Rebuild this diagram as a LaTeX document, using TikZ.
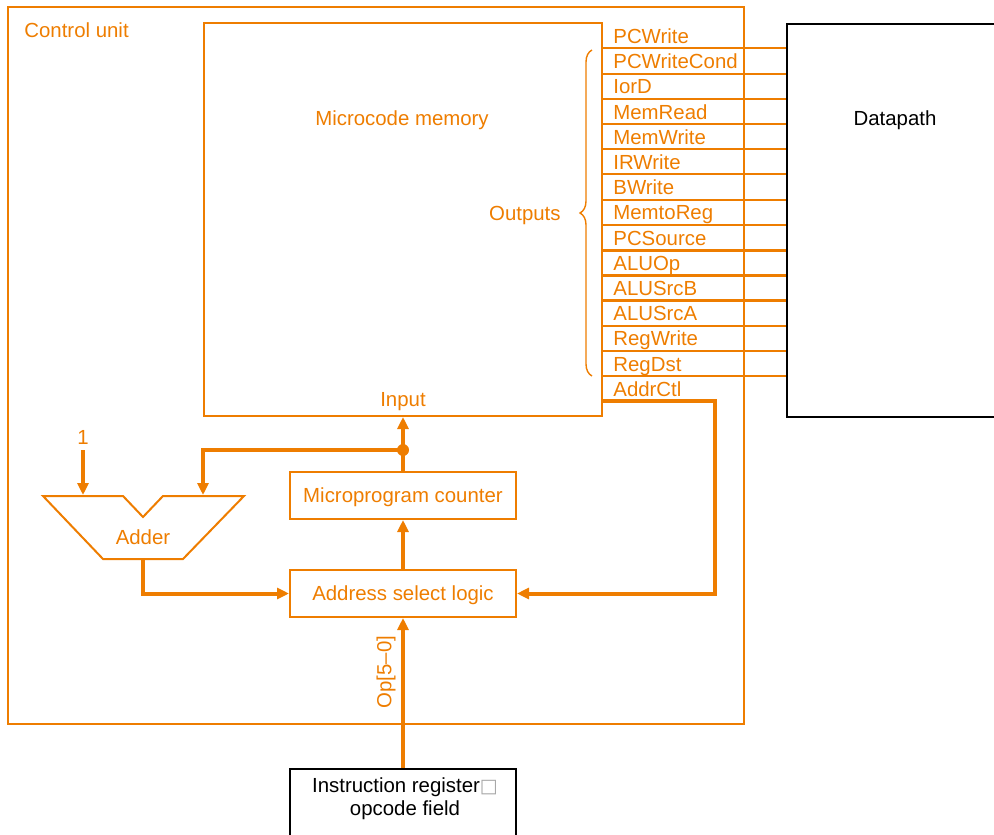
\documentclass[tikz,border=0pt]{standalone}
\usepackage{fontspec}
\setmainfont{Liberation Sans}
\newfontfamily\glyphfont{DejaVu Sans}
\usetikzlibrary{arrows.meta,positioning,decorations.pathreplacing}
\definecolor{cuorange}{RGB}{238,125,0}

\begin{document}
\begin{tikzpicture}[
  x=0.5pt, y=-0.5pt,
  font=\fontsize{10.2}{11.5}\selectfont,
  node distance=24.5pt,
  unit/.style={rectangle, draw=cuorange, line width=1pt, text=cuorange, minimum width=113pt, minimum height=23.5pt, inner sep=0pt, text height=7.4pt, text depth=0pt},
  outer/.style={rectangle, draw=black, line width=1pt, inner sep=0pt},
  lbl/.style={text=cuorange, inner sep=0pt},
  arrow/.style={-{Triangle[length=6pt,width=5.5pt]}, line width=2pt, draw=cuorange}
]
\useasboundingbox (0,0) rectangle (994,834);
\node[rectangle, draw=cuorange, line width=0.7pt, minimum width=368pt, minimum height=358.5pt, inner sep=0pt] (cu) at (376,365.5) {};
\node[lbl, anchor=west] (cutitle) at (24,30) {Control unit};
\node[rectangle, draw=cuorange, line width=1pt, inner sep=0pt, minimum width=199pt, minimum height=196.5pt] (mem) at (403,219.5) {};
\node[lbl] (memtitle) at (402,120) {Microcode memory};
\node[lbl] (input) at (403,402) {Input};
\node[outer, minimum width=120pt, minimum height=196.5pt, anchor=north west] (dp) at (786,23) {};
\node (dptitle) at (895,120) {Datapath};

\node[unit] (upc) at (403,495.5) {Microprogram counter};
\node[unit, below=of upc] (asl) {Address select logic};
\node[outer, minimum width=113pt, minimum height=40pt, below=75pt of asl] (ir) {};
\node[align=center, inner sep=0pt] (irtext) at (405,799) {Instruction register{\glyphfont\fontsize{9.5}{9.5}\selectfont\color{gray!70}□}\\opcode field};

\foreach \sig [count=\i] in {PCWrite,PCWriteCond,IorD,MemRead,MemWrite,IRWrite,BWrite,MemtoReg,PCSource,ALUOp,ALUSrcB,ALUSrcA,RegWrite,RegDst,AddrCtl}
  \node[lbl, anchor=base west] (s\i) at (613,{43.5+25.2*(\i-1)}) {\sig};
\foreach \i in {1,...,14}{
  \pgfmathsetmacro{\w}{(\i>8 && \i<12) ? 1.5 : 1}
  \coordinate (o\i) at (602,{48.5+25.2*(\i-1)});
  \draw[cuorange, line width=\w pt] (o\i) -- (o\i -| dp.west);
}
\draw[cuorange, line width=0.7pt, decorate, decoration={brace, amplitude=6pt}] (592,376) -- (592,50);
\node[lbl, anchor=east] (outs) at (561,215) {Outputs};

\draw[cuorange, line width=1pt] (43,496) -- (123,496) -- (143,517) -- (163,496) -- (244,496) -- (183,559) -- (103,559) -- cycle;
\node[lbl] (adder) at (143,537) {Adder};
\coordinate (addin1) at (83,495);
\coordinate (addin2) at (203,495);
\coordinate (addout) at (143,559);
\node[lbl] (one) at (83,437) {1};
\node[circle, fill=cuorange, inner sep=0pt, minimum size=6pt] (junc) at (403,450) {};
\coordinate (ctlturn) at (715,401);

\draw[arrow, shorten <=3pt] (one.south) -- (addin1);
\draw[arrow] (upc.north) -- (mem.south);
\draw[arrow] (junc.center) -| (addin2);
\draw[arrow] (addout) |- (asl.west);
\draw[arrow] (asl.north) -- (upc.south);
\draw[arrow] (ir.north) -- (asl.south);
\node[lbl, rotate=90] (oplbl) at (386,672) {Op[5–0]};
\draw[arrow] (mem.east |- ctlturn) -- (ctlturn) |- (asl.east);
\end{tikzpicture}
\end{document}
